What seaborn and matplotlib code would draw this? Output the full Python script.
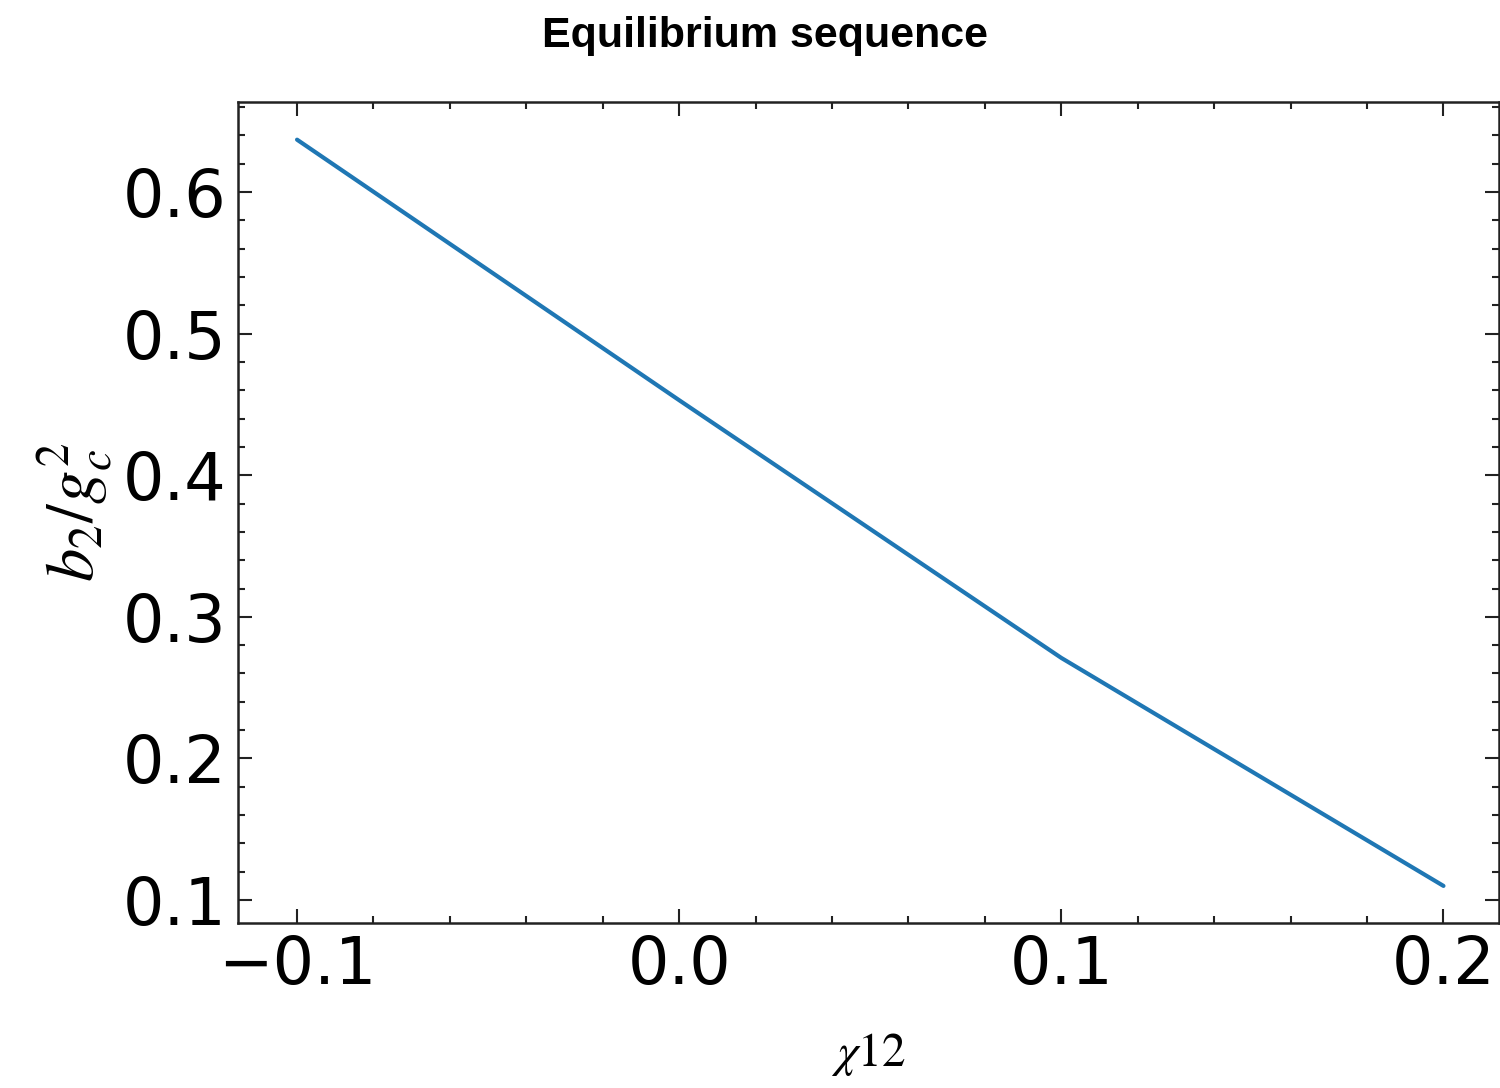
import matplotlib
matplotlib.use("Agg")
import matplotlib.pyplot as plt
import seaborn as sns
import pandas as pd
from matplotlib.ticker import MultipleLocator

chi12 = [-0.1, 0.0, 0.1, 0.2]
b2_gc2 = [0.637, 0.453, 0.271, 0.110]

sns.set_style("ticks")
plt.rcParams['font.family'] = ['DejaVu Sans']
plt.rcParams['mathtext.fontset'] = 'stix'

df = pd.DataFrame({"chi12": chi12, "b2": b2_gc2})

fig = plt.figure(figsize=(15, 10.88), dpi=100)
ax = fig.add_axes([238/1500, 1-923/1088, 1260.5/1500, (923-102)/1088])
sns.lineplot(data=df, x="chi12", y="b2", ax=ax, color="#1f77b4", linewidth=3)

ax.set_xlim(-0.11545, 0.2144)
ax.set_ylim(0.0838, 0.6636)
ax.xaxis.set_major_locator(MultipleLocator(0.1))
ax.xaxis.set_minor_locator(MultipleLocator(0.02))
ax.yaxis.set_major_locator(MultipleLocator(0.1))
ax.yaxis.set_minor_locator(MultipleLocator(0.02))
ax.tick_params(which="both", direction="in", top=True, right=True, width=1.5, colors="#222222")
ax.tick_params(which="major", length=10, labelsize=47, labelcolor="black", pad=8)
ax.tick_params(which="minor", length=5)
for s in ax.spines.values():
    s.set_linewidth(1.8)
    s.set_color("#222222")

ax.set_xlabel(r"$\chi\mathrm{12}$", fontsize=34, labelpad=24, color="black")
ax.set_ylabel(r"$b_2/g_c^2$", fontsize=48, labelpad=6, color="black")
fig.suptitle("Equilibrium sequence", x=0.51, y=0.985, va="top", fontsize=31,
             fontweight="bold", family="Liberation Sans", color="black")

fig.savefig("out.png", dpi=100)
